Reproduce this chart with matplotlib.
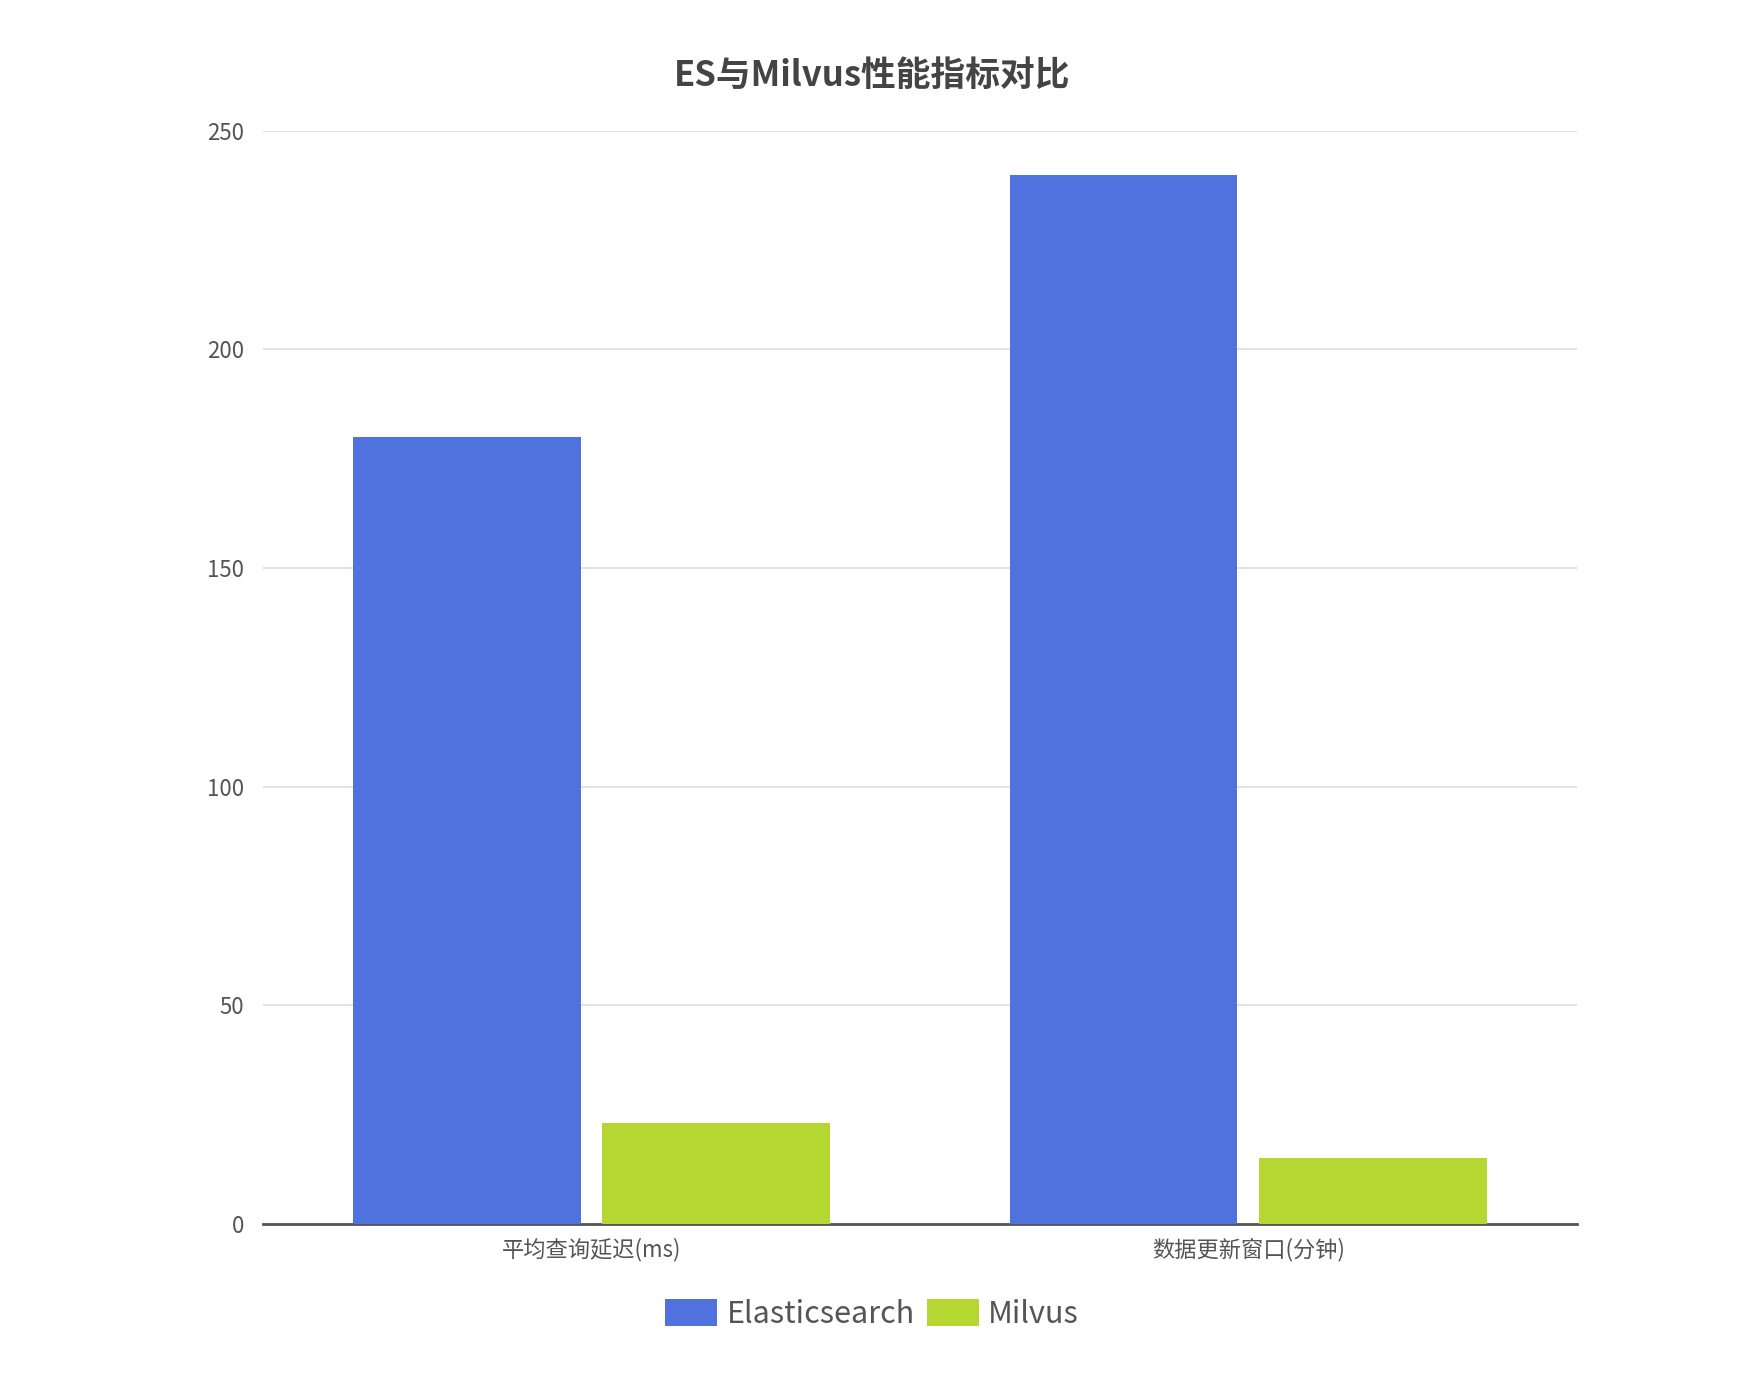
import matplotlib
matplotlib.use("Agg")
import matplotlib.pyplot as plt
import numpy as np
from matplotlib.patches import FancyBboxPatch

plt.rcParams['font.family'] = ['Noto Sans CJK SC', 'DejaVu Sans']

categories = ["平均查询延迟(ms)", "数据更新窗口(分钟)"]
es_values = [180, 240]
milvus_values = [23, 15]
series_names = ["Elasticsearch", "Milvus"]
colors = ["#5072DE", "#B6D632"]

fig = plt.figure(figsize=(17.44, 13.78), dpi=100)
ax = fig.add_axes([0.151, 0.112, 0.753, 0.793])
x = np.arange(len(categories))
w = 0.347
off = 0.19
ax.bar(x - off, es_values, w, color=colors[0], label=series_names[0], zorder=3)
ax.bar(x + off, milvus_values, w, color=colors[1], label=series_names[1], zorder=3)
ax.set_xlim(-0.5, 1.5)
ax.set_ylim(0, 250)
ax.set_yticks([0, 50, 100, 150, 200, 250])
ax.yaxis.grid(True, color="#DADDE3", linewidth=1.2, zorder=0)
for s in ["top", "right", "left"]:
    ax.spines[s].set_visible(False)
ax.spines["bottom"].set_color("#555555")
ax.spines["bottom"].set_linewidth(2)
ax.set_xticks(x)
ax.set_xticklabels(categories, fontsize=16, color="#555555")
ax.tick_params(axis="x", length=0, pad=10)
ax.tick_params(axis="y", length=0, labelsize=16, labelcolor="#555555", pad=14)
fig.suptitle("ES与Milvus性能指标对比", fontsize=25, fontweight="bold", color="#444444", y=0.958)
leg = fig.legend(loc="lower center", bbox_to_anchor=(0.5, 0.015), ncol=2, frameon=False,
                 fontsize=22, handlelength=1.7, handleheight=1.0, columnspacing=0.4,
                 handletextpad=0.3, labelcolor="#555555")
plt.savefig("out.png", dpi=100)
